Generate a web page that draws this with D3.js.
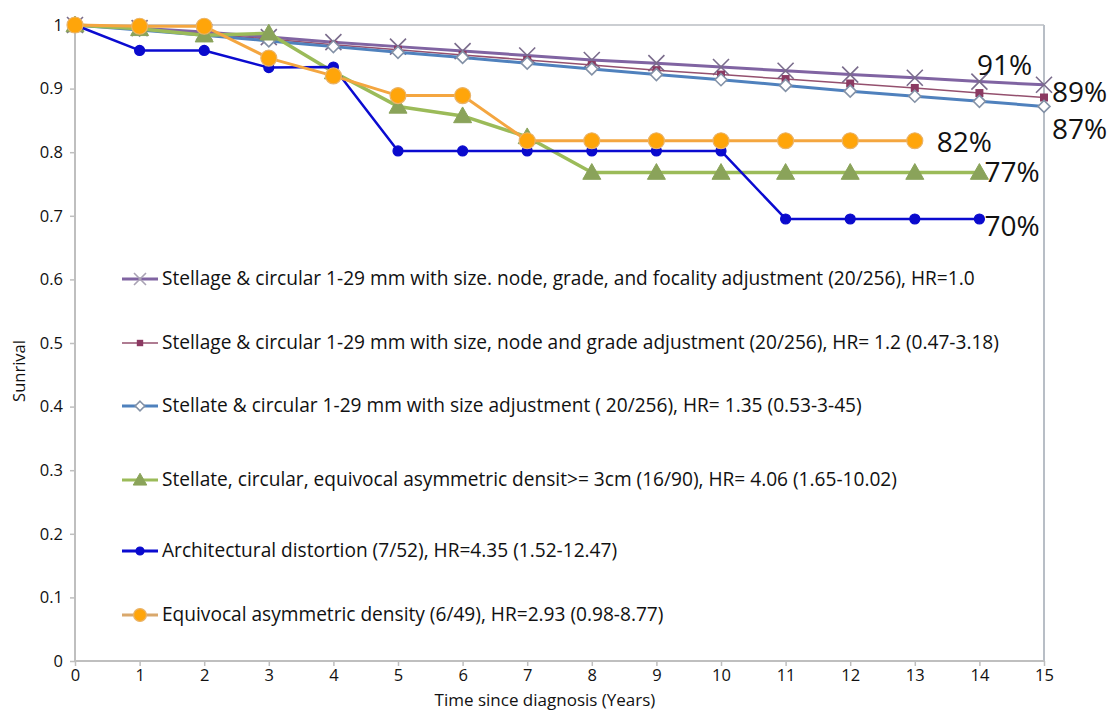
<!DOCTYPE html>
<html>
<head>
<meta charset="utf-8">
<script src="https://cdn.jsdelivr.net/npm/d3@7"></script>
<style>
  body { margin: 0; background: #fff; }
  svg { display: block; font-family: "Open Sans", "Noto Sans", sans-serif; }
</style>
</head>
<body>
<svg id="chart" width="1111" height="711"></svg>
<script>
// ---- data ----
const years = [0, 1, 2, 3, 4, 5, 6, 7, 8, 9, 10, 11, 12, 13, 14, 15];
const yTicks = [0, 0.1, 0.2, 0.3, 0.4, 0.5, 0.6, 0.7, 0.8, 0.9, 1];
const xTicks = [0, 1, 2, 3, 4, 5, 6, 7, 8, 9, 10, 11, 12, 13, 14, 15];

const names = [
  "Stellage & circular 1-29 mm with size. node, grade, and focality adjustment (20/256), HR=1.0",
  "Stellage & circular 1-29 mm with size, node and grade adjustment (20/256), HR= 1.2 (0.47-3.18)",
  "Stellate & circular 1-29 mm with size adjustment ( 20/256), HR= 1.35 (0.53-3-45)",
  "Stellate, circular, equivocal asymmetric densit>= 3cm (16/90), HR= 4.06 (1.65-10.02)",
  "Architectural distortion (7/52), HR=4.35 (1.52-12.47)",
  "Equivocal asymmetric density (6/49), HR=2.93 (0.98-8.77)"
];
const s1 = [1, 0.995, 0.989, 0.981, 0.973, 0.966, 0.959, 0.952, 0.945, 0.940, 0.934, 0.928, 0.922, 0.917, 0.911, 0.906];
const s2 = [1, 0.993, 0.986, 0.978, 0.969, 0.961, 0.953, 0.945, 0.937, 0.929, 0.922, 0.915, 0.908, 0.901, 0.893, 0.886];
const s3 = [1, 0.992, 0.984, 0.975, 0.966, 0.957, 0.949, 0.940, 0.931, 0.922, 0.914, 0.905, 0.896, 0.888, 0.880, 0.872];
const s4 = [1, 0.994, 0.984, 0.987, 0.926, 0.872, 0.857, 0.824, 0.768, 0.768, 0.768, 0.768, 0.768, 0.768, 0.768];
const s5 = [1, 0.960, 0.960, 0.933, 0.934, 0.802, 0.802, 0.802, 0.802, 0.802, 0.802, 0.695, 0.695, 0.695, 0.695];
const s6 = [1, 0.998, 0.998, 0.948, 0.920, 0.889, 0.889, 0.818, 0.818, 0.818, 0.818, 0.818, 0.818, 0.818];
const endLabels = ["91%", "89%", "87%", "77%", "70%", "82%"];

// ---- layout ----
const svg = d3.select("#chart");
const x = d3.scaleLinear().domain([0, 15]).range([75, 1044]);
const y = d3.scaleLinear().domain([0, 1]).range([661, 25]);
const grey = "#BFBFBF";

// frame top/right
svg.append("line").attr("x1", 75).attr("x2", 1044).attr("y1", y(1)).attr("y2", y(1))
  .attr("stroke", "#CBCED2").attr("stroke-width", 2);
svg.append("line").attr("x1", 1044).attr("x2", 1044).attr("y1", y(1)).attr("y2", y(0))
  .attr("stroke", "#B8BEC6").attr("stroke-width", 2);

// axes
const yAxis = svg.append("g").attr("transform", "translate(75,0)")
  .call(d3.axisLeft(y).tickValues(yTicks).tickSize(5).tickPadding(7).tickFormat(d => String(+d.toFixed(1))));
const xAxis = svg.append("g").attr("transform", `translate(0,${y(0)})`)
  .call(d3.axisBottom(x).tickValues(xTicks).tickSize(5).tickPadding(3).tickFormat(d3.format("d")));
[yAxis, xAxis].forEach(g => {
  g.select(".domain").attr("stroke", grey).attr("stroke-width", 2);
  g.selectAll(".tick line").attr("stroke", grey).attr("stroke-width", 1.5);
  g.selectAll("text").attr("fill", "#111").style("font-size", "16.5px")
    .style("font-family", '"Open Sans", sans-serif');
});
xAxis.selectAll(".domain").attr("d", `M75,0H1044`);
yAxis.selectAll(".domain").attr("d", `M0,${y(0)}V${y(1)}`);

// axis titles
svg.append("text").attr("x", 545).attr("y", 706).attr("text-anchor", "middle")
  .style("font-size", "17px").attr("fill", "#111").text("Time since diagnosis (Years)");
svg.append("text").attr("transform", "translate(25,371) rotate(-90)").attr("text-anchor", "middle")
  .style("font-size", "16.5px").attr("fill", "#111").text("Sunrival");

// ---- series ----
const seriesDefs = [
  { vals: s1, line: "#8064A2", lw: 3, mk: "x", mstroke: "#7A6C8C", mfill: "none", ms: 8 },
  { vals: s2, line: "#94506E", lw: 1.5, mk: "square", mstroke: "#8B3A62", mfill: "#8B3A62", ms: 4 },
  { vals: s3, line: "#4F81BD", lw: 3, mk: "diamond", mstroke: "#8391A6", mfill: "#fff", ms: 6 },
  { vals: s4, line: "#9BBB59", lw: 3.5, mk: "triangle", mstroke: "#8AA35A", mfill: "#8AA35A", ms: 9 },
  { vals: s5, line: "#0B0BD0", lw: 2.5, mk: "circle", mstroke: "#0A0ACD", mfill: "#0A0ACD", ms: 5 },
  { vals: s6, line: "#F4A640", lw: 3, mk: "circle", mstroke: "#E9B36A", mfill: "#FFA50A", ms: 8 }
];

function drawMarker(g, def, cx, cy, scale) {
  const s = def.ms * (scale || 1);
  if (def.mk === "x") {
    g.append("path").attr("d", `M${cx - s},${cy - s}L${cx + s},${cy + s}M${cx - s},${cy + s}L${cx + s},${cy - s}`)
      .attr("stroke", def.mstroke).attr("stroke-width", 1.6).attr("fill", "none");
  } else if (def.mk === "square") {
    g.append("rect").attr("x", cx - s).attr("y", cy - s).attr("width", 2 * s).attr("height", 2 * s)
      .attr("fill", def.mfill).attr("stroke", "none");
  } else if (def.mk === "diamond") {
    g.append("path").attr("d", `M${cx},${cy - s}L${cx + s},${cy}L${cx},${cy + s}L${cx - s},${cy}Z`)
      .attr("fill", def.mfill).attr("stroke", def.mstroke).attr("stroke-width", 1.6);
  } else if (def.mk === "triangle") {
    g.append("path").attr("d", `M${cx},${cy - s}L${cx + s},${cy + s * 0.75}L${cx - s},${cy + s * 0.75}Z`)
      .attr("fill", def.mfill).attr("stroke", def.mstroke).attr("stroke-width", 1);
  } else {
    g.append("circle").attr("cx", cx).attr("cy", cy).attr("r", s)
      .attr("fill", def.mfill).attr("stroke", def.mstroke).attr("stroke-width", 1.2);
  }
}

const line = d3.line().x((d, i) => x(years[i])).y(d => y(d));
seriesDefs.forEach(def => {
  const g = svg.append("g");
  g.append("path").datum(def.vals).attr("d", line).attr("fill", "none")
    .attr("stroke", def.line).attr("stroke-width", def.lw).attr("stroke-linejoin", "round");
  def.vals.forEach((v, i) => drawMarker(g, def, x(years[i]), y(v)));
});

// ---- end labels ----
const labelOffsets = [[-67, -10], [8, 4], [8, 33], [5, 9], [5, 17], [22, 11]];
seriesDefs.forEach((def, k) => {
  const n = def.vals.length - 1;
  svg.append("text").attr("x", x(years[n]) + labelOffsets[k][0]).attr("y", y(def.vals[n]) + labelOffsets[k][1])
    .style("font-size", "28px").attr("fill", "#111").text(endLabels[k]);
});

// ---- legend ----
const legendY = [279, 343, 406, 480, 551, 615];
const legendLine = ["#8064A2", "#94506E", "#4F81BD", "#9BBB59", "#0B0BD0", "#D9A86C"];
const leg = svg.append("g");
const texts = [];
seriesDefs.forEach((def, k) => {
  const gy = legendY[k];
  leg.append("line").attr("x1", 122).attr("x2", 158).attr("y1", gy).attr("y2", gy)
    .attr("stroke", legendLine[k]).attr("stroke-width", def.lw === 1.5 ? 1.5 : 3);
  const mdef = Object.assign({}, def, k === 0 ? { mstroke: "#A9A2B4" } : {});
  drawMarker(leg, mdef, 140, gy, k === 0 ? 0.75 : (k === 3 ? 0.75 : 0.8));
  texts.push(leg.append("text").attr("x", 162).attr("y", gy + 6).style("font-size", "17px")
    .attr("fill", "#111").text(names[k]));
});
// fit legend font to the reference width of the first entry
const w0 = texts[0].node().getComputedTextLength();
const fs = 17 * 813 / w0;
texts.forEach(t => t.style("font-size", fs.toFixed(2) + "px"));
</script>
</body>
</html>
